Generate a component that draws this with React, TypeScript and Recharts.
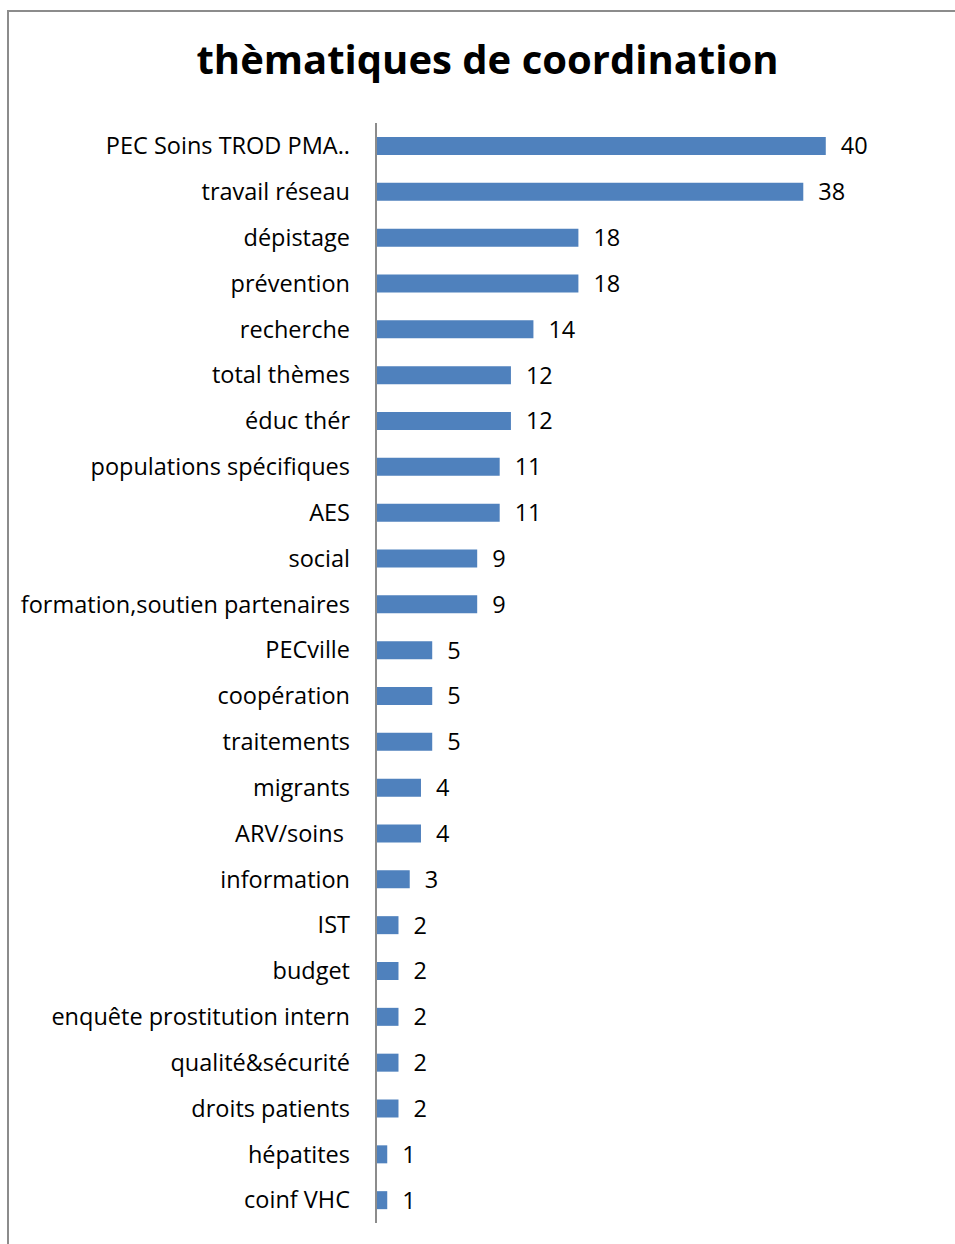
import React from "react";
import { BarChart, Bar, XAxis, YAxis, LabelList } from "recharts";

const categories = [
  "PEC Soins TROD PMA..",
  "travail réseau",
  "dépistage",
  "prévention",
  "recherche",
  "total thèmes",
  "éduc thér",
  "populations spécifiques",
  "AES",
  "social",
  "formation,soutien partenaires",
  "PECville",
  "coopération",
  "traitements",
  "migrants",
  "ARV/soins\u00a0",
  "information",
  "IST",
  "budget",
  "enquête prostitution intern",
  "qualité&sécurité",
  "droits patients",
  "hépatites",
  "coinf VHC",
];

const values = [40, 38, 18, 18, 14, 12, 12, 11, 11, 9, 9, 5, 5, 5, 4, 4, 3, 2, 2, 2, 2, 2, 1, 1];

const title = "thèmatiques de coordination";

const data = categories.map((name, i) => ({ name, value: values[i] }));

const FONT = "'Open Sans', sans-serif";

export default function App() {
  return (
    <div style={{ position: "absolute", left: 0, top: 0, width: 955, height: 1244, background: "#fff", overflow: "hidden", fontVariantLigatures: "none" }}>
      <div
        style={{
          position: "absolute",
          left: 7,
          top: 10,
          width: 1000,
          height: 1300,
          border: "2px solid #8c8c8c",
          boxSizing: "border-box",
        }}
      />
      <div
        style={{
          position: "absolute",
          left: 0,
          top: 31,
          width: 975,
          textAlign: "center",
          fontFamily: FONT,
          fontWeight: 700,
          fontSize: 40,
          color: "#000",
          lineHeight: "56px",
        }}
      >
        {title}
      </div>
      <div style={{ position: "absolute", left: 0, top: 0 }}>
        <BarChart
          width={955}
          height={1244}
          data={data}
          layout="vertical"
          margin={{ top: 123, right: 73, bottom: 21, left: 0 }}
          barCategoryGap="30%"
        >
          <XAxis type="number" domain={[0, 45]} hide />
          <YAxis
            type="category"
            dataKey="name"
            width={376}
            tickLine={false}
            tickSize={0}
            tickMargin={26}
            axisLine={{ stroke: "#8c8c8c", strokeWidth: 2 }}
            tick={{ fill: "#000", fontSize: 23.5, fontFamily: FONT }}
            interval={0}
          />
          <Bar dataKey="value" fill="#4F81BD" barSize={18} isAnimationActive={false}>
            <LabelList
              dataKey="value"
              position="right"
              offset={15}
              fill="#000"
              fontSize={23.5}
              fontFamily={FONT}
            />
          </Bar>
        </BarChart>
      </div>
    </div>
  );
}
